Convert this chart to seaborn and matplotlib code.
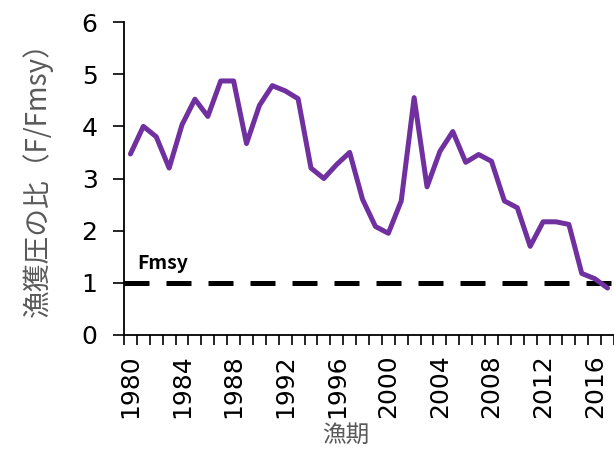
import matplotlib
matplotlib.use("Agg")
import matplotlib.pyplot as plt
import seaborn as sns
import pandas as pd
import numpy as np

# データ
years = list(range(1980, 2018))
f_ratio = [3.47, 4.00, 3.80, 3.20, 4.03, 4.52, 4.19, 4.87, 4.87, 3.67,
           4.40, 4.78, 4.68, 4.53, 3.20, 3.00, 3.27, 3.50, 2.60, 2.08,
           1.95, 2.57, 4.55, 2.84, 3.52, 3.90, 3.31, 3.46, 3.33, 2.57,
           2.44, 1.70, 2.17, 2.17, 2.12, 1.18, 1.08, 0.90]
year_ticks = list(range(1980, 2017, 4))
y_ticks = [0, 1, 2, 3, 4, 5, 6]
fmsy_level = 1.0

df = pd.DataFrame({"漁期": years, "F/Fmsy": f_ratio})

sns.set_style("white")
plt.rcParams["font.family"] = ["Noto Sans CJK JP", "DejaVu Sans"]

fig = plt.figure(figsize=(6.14, 4.49), dpi=100)
ax = fig.add_axes([124 / 614, 1 - 335 / 449, 490 / 614, 313 / 449])

# Fmsy 基準線
ax.axhline(fmsy_level, color="black", lw=3.6, dashes=(5, 3.4), zorder=1)
ax.text(1980.5, fmsy_level + 0.18, "Fmsy", fontsize=14, fontweight="bold",
        color="black", ha="left", va="bottom")

sns.lineplot(data=df, x="漁期", y="F/Fmsy", color="#7030A0", lw=3.6,
             ax=ax, zorder=2, clip_on=False)

ax.set_xlim(1979.55, 2017.1)
ax.set_ylim(0, 6)
ax.set_yticks(y_ticks)
ax.set_yticklabels([str(v) for v in y_ticks], family="DejaVu Sans")
ax.set_xticks(year_ticks)
ax.set_xticklabels([str(y) for y in year_ticks], rotation=90,
                   family="DejaVu Sans")
ax.set_xticks(np.arange(1979.5, 2017.6, 1), minor=True)

ax.tick_params(axis="x", which="major", length=0, labelsize=18, pad=14,
               colors="black")
ax.tick_params(axis="x", which="minor", length=7, width=1.2, direction="out",
               color="black", bottom=True)
ax.tick_params(axis="y", length=8, width=1.2, direction="out", labelsize=18,
               left=True, colors="black", pad=11)

for s in ["top", "right"]:
    ax.spines[s].set_visible(False)
for s in ["left", "bottom"]:
    ax.spines[s].set_color("black")
    ax.spines[s].set_linewidth(1.3)

ax.set_xlabel("漁期", fontsize=17, color="#595959")
ax.xaxis.set_label_coords(0.453, -0.283)
ax.set_ylabel("漁獲圧の比（F/Fmsy）", fontsize=20, color="#595959")
ax.yaxis.set_label_coords(-0.145, 0.52)

fig.savefig("out.png", dpi=100)
